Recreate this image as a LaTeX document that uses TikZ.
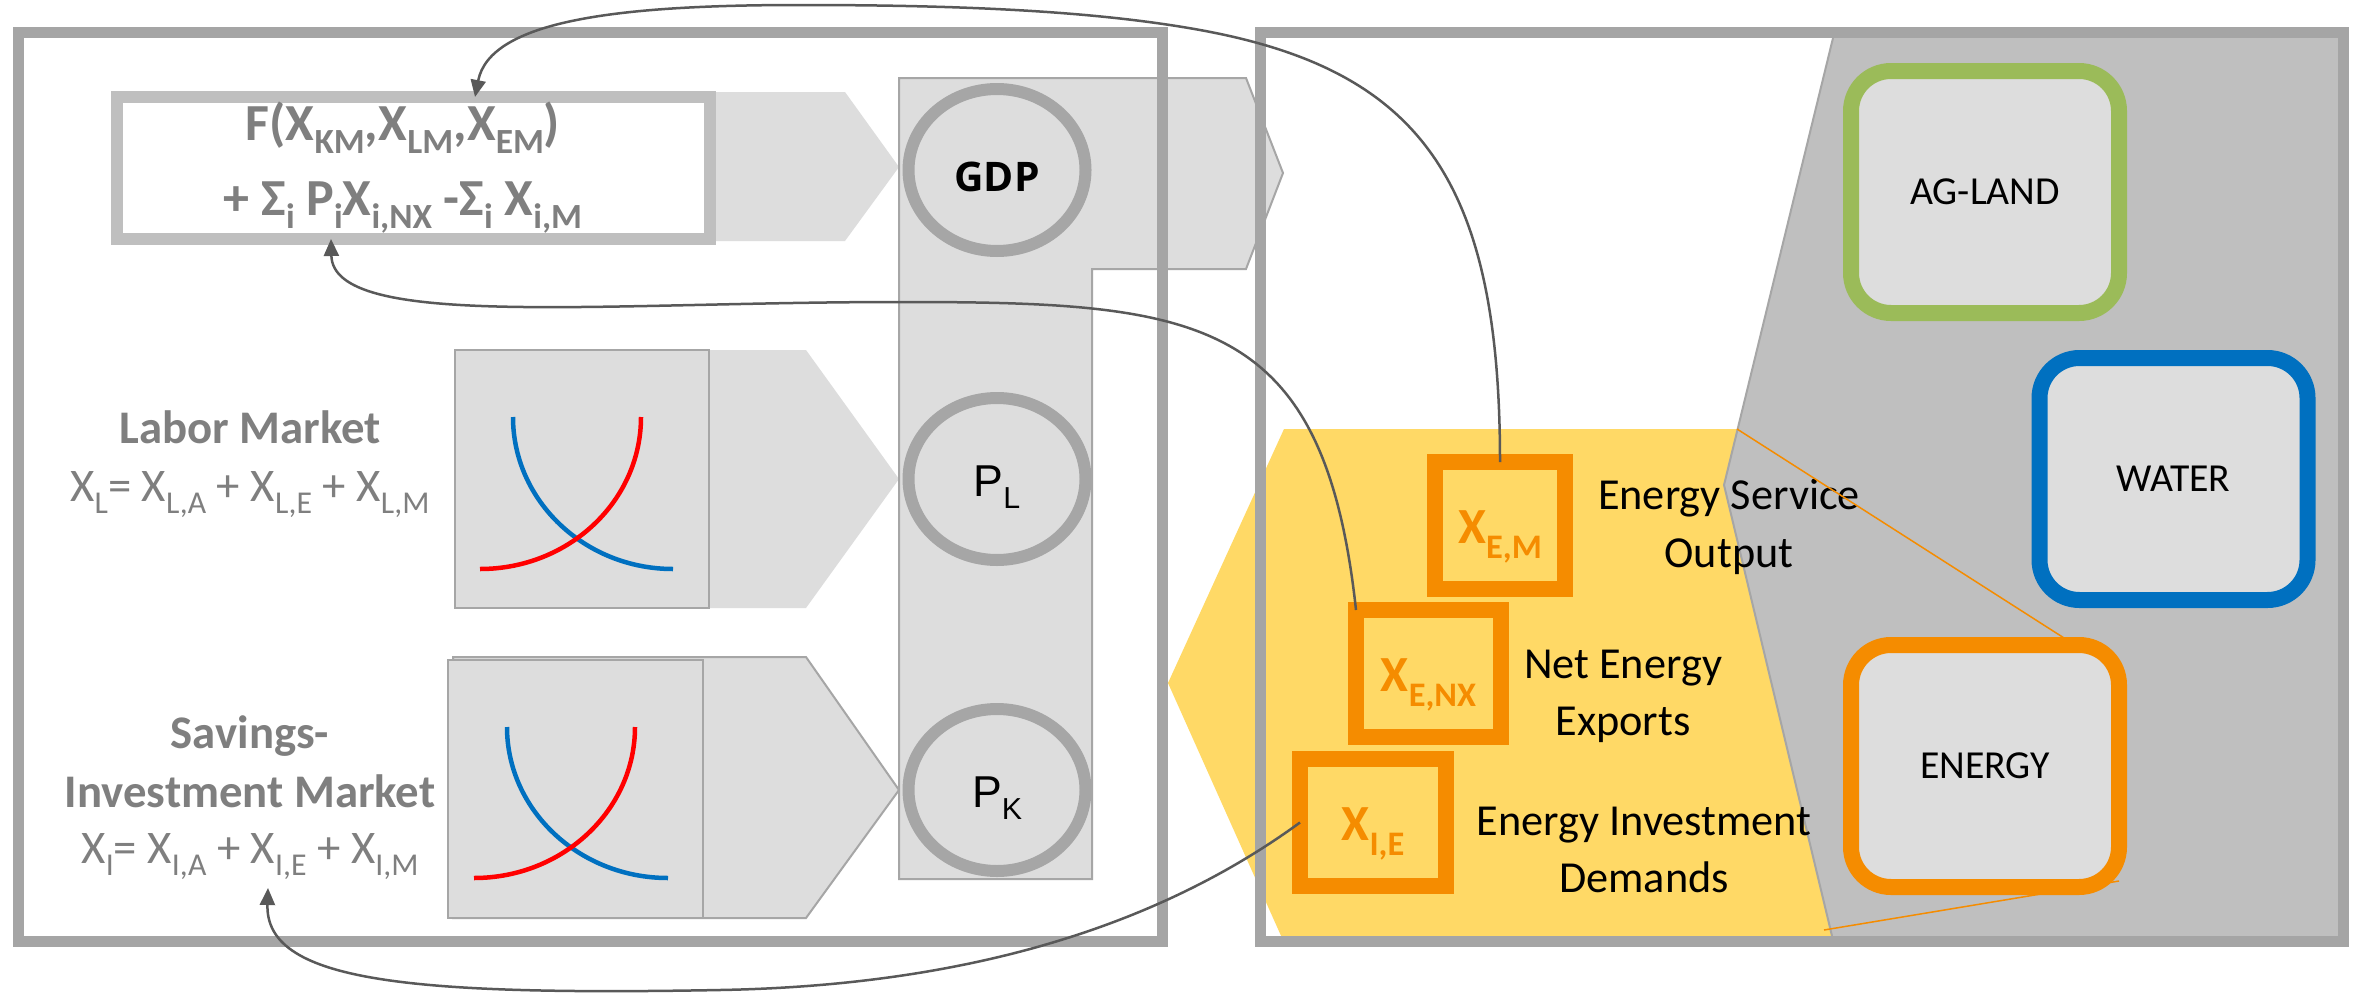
\documentclass[tikz,border=0pt]{standalone}
\usepackage{fontspec}
\usepackage{graphicx}
\setmainfont{Carlito}
\newfontfamily\arialfont{Liberation Sans}
\newfontfamily\segoefont{Open Sans}
\usetikzlibrary{shapes.geometric,arrows.meta}

\definecolor{boxgray}{HTML}{A5A5A5}
\definecolor{panefill}{HTML}{DDDDDD}
\definecolor{edgegray}{HTML}{A6A6A6}
\definecolor{fboxgray}{HTML}{BFBFBF}
\definecolor{regiongray}{HTML}{BFBFBF}
\definecolor{txtgray}{HTML}{7F7F7F}
\definecolor{conngray}{HTML}{595959}
\definecolor{eorange}{HTML}{F58C00}
\definecolor{egold}{HTML}{FFD966}
\definecolor{agreen}{HTML}{9BBB59}
\definecolor{wblue}{HTML}{0070C0}
\definecolor{cred}{HTML}{FF0000}

\newcommand{\lowsub}[2][0.27]{\raisebox{-#1em}{\scalebox{0.68}{#2}}}
\newcommand{\fntmarket}{\fontsize{13.3pt}{16pt}\selectfont}
\newcommand{\fntformula}{\fontsize{14.8pt}{17pt}\selectfont\bfseries}
\newcommand{\fnttag}{\fontsize{12.6pt}{15pt}\selectfont}
\newcommand{\fntsector}{\fontsize{11.3pt}{13pt}\selectfont}
\newcommand{\fntx}{\fontsize{14.4pt}{17pt}\selectfont\bfseries}
\newcommand{\fntprice}{\arialfont\fontsize{12.7pt}{15pt}\selectfont}
\newcommand{\fntgdp}{\segoefont\fontsize{11.6pt}{14pt}\selectfont\bfseries}

\begin{document}
\begin{tikzpicture}[x=0.1mm, y=-0.1mm,
    frame/.style={draw=boxgray, line width=1.1mm},
    pane/.style={fill=panefill, draw=edgegray, line width=0.2mm},
    curve/.style={line width=0.45mm},
    price/.style={ellipse, draw=edgegray, fill=panefill, line width=1.2mm,
      minimum width=17.7mm, minimum height=16.2mm, inner sep=0pt, outer sep=0pt,
      text height=3.5mm, text depth=0pt, font=\fntprice},
    sector/.style={rounded corners=4mm, fill=panefill, line width=1.6mm,
      minimum width=26.8mm, minimum height=24.2mm, inner sep=0pt, outer sep=0pt,
      font=\fntsector},
    xbox/.style={draw=eorange, line width=1.6mm, minimum height=12.7mm,
      inner sep=0pt, outer sep=0pt, text=eorange, font=\fntx,
      text height=3.5mm, text depth=0pt},
    lbl/.style={anchor=base, inner sep=0pt, text=txtgray},
    tag/.style={anchor=base, inner sep=0pt, font=\fnttag},
    callout/.style={draw=eorange, line width=0.15mm},
    conn/.style={draw=conngray, line width=0.25mm, -{Triangle[length=1.7mm,width=1.5mm]}}]

\useasboundingbox (0,0) rectangle (2359,995);
\fill[white] (0,0) rectangle (2359,995);

% energy sector region
\fill[egold] (1168,683) -- (1284,429) -- (1760,429) -- (1860,938) -- (1282,938) -- cycle;
\fill[regiongray] (1833,38) -- (2340,38) -- (2340,936) -- (1832,936) -- (1724,485) -- cycle;
\draw[edgegray, line width=0.2mm] (1833,38) -- (1724,485) -- (1832,936);

% macro side
\fill[panefill] (700,92) -- (845,92) -- (899,167) -- (845,241) -- (700,241) -- cycle;
\fill[panefill] (705,350) -- (806,350) -- (899,479) -- (806,608) -- (705,608) -- cycle;
\draw[pane] (453,657) -- (806,657) -- (899,790) -- (806,918) -- (453,918) -- cycle;
\draw[pane] (455,350) rectangle (709,608);
\draw[pane] (448,660) rectangle (703,918);
\draw[wblue, curve] (513,417) .. controls (513,501) and (585,569) .. (673,569);
\draw[cred, curve] (641,417) .. controls (641,501) and (569,569) .. (480,569);
\draw[wblue, curve] (507,727) .. controls (507,810) and (579,878) .. (668,878);
\draw[cred, curve] (635,727) .. controls (635,810) and (563,878) .. (474,878);
\draw[pane] (899,78) -- (1246,78) -- (1283,173) -- (1246,269) -- (1092,269)
  -- (1092,879) -- (899,879) -- cycle;

\draw[frame] (18,32) rectangle (1162,941);
\draw[frame] (1260,32) rectangle (2343,941);

\node[draw=fboxgray, fill=white, line width=1.2mm, minimum width=59.3mm,
  minimum height=14.2mm, inner sep=0pt, outer sep=0pt] (fbox) at (413.5,168) {};
\node[lbl, font=\fntformula] (fline1) at (403,140)
  {F(X\lowsub[0.25]{KM},X\lowsub[0.25]{LM},X\lowsub[0.25]{EM})};
\node[lbl, font=\fntformula] (fline2) at (403,215.5)
  {+ Σ\lowsub[0.25]{i} P\lowsub[0.25]{i}X\lowsub[0.25]{i,NX} -Σ\lowsub[0.25]{i} X\lowsub[0.25]{i,M}};

\node[lbl, font=\fntmarket\bfseries] (labt) at (250,443) {Labor Market};
\node[lbl, font=\fntmarket] (labeq) at (250,501)
  {X\lowsub{L}= X\lowsub{L,A} + X\lowsub{L,E} + X\lowsub{L,M}};
\node[lbl, font=\fntmarket\bfseries] (savt1) at (250,748) {Savings-};
\node[lbl, font=\fntmarket\bfseries] (savt2) at (250,807) {Investment Market};
\node[lbl, font=\fntmarket] (saveq) at (250,863)
  {X\lowsub{I}= X\lowsub{I,A} + X\lowsub{I,E} + X\lowsub{I,M}};

\node[price, font=\fntgdp, text height=4.2mm] (gdp) at (997,170) {GDP};
\node[price] (pl) at (997,479) {P\lowsub{L}};
\node[price] (pk) at (997,790) {P\lowsub{K}};

% resource sectors
\node[sector, draw=agreen] (agland) at (1985,192) {AG-LAND};
\node[sector, draw=wblue] (water) at (2173.5,479) {WATER};
\node[sector, draw=eorange] (energy) at (1985,766) {ENERGY};

\node[xbox, minimum width=13mm] (xem) at (1500,525.5) {X\lowsub[0.3]{E,M}};
\node[xbox, minimum width=14.5mm] (xenx) at (1428.5,673.5) {X\lowsub[0.3]{E,NX}};
\node[xbox, minimum width=14.6mm] (xie) at (1373,822.5) {X\lowsub[0.3]{I,E}};

\node[tag] (esl1) at (1729,509) {Energy Service};
\node[tag] (esl2) at (1729,567) {Output};
\node[tag] (nel1) at (1623,678) {Net Energy};
\node[tag] (nel2) at (1623,735) {Exports};
\node[tag] (eil1) at (1644,835) {Energy Investment};
\node[tag] (eil2) at (1644,892) {Demands};

\coordinate (ygtop) at (1737,429);
\coordinate (ygbot) at (1824,930);
\draw[callout] (ygtop) -- ([xshift=-4.4mm]energy.north east);
\draw[callout] (ygbot) -- ([yshift=0.6mm]energy.south east);

\draw[conn] (xem.north) .. controls (1500,180) and (1420,70) .. (1200,30)
  .. controls (1090,10) and (950,5) .. (800,5)
  .. controls (620,5) and (490,20) .. ([xshift=6.15mm]fbox.north);
\draw[conn] (xenx.north west) .. controls (1324,315) and (1200,302) .. (900,302)
  .. controls (600,302) and (333,330) .. ([xshift=-8.25mm]fbox.south);
\draw[conn] (xie.west) .. controls (1180,910) and (1000,985) .. (720,990)
  .. controls (400,996) and (265,980) .. ([xshift=1.8mm,yshift=-2.5mm]saveq.base);
\end{tikzpicture}
\end{document}
